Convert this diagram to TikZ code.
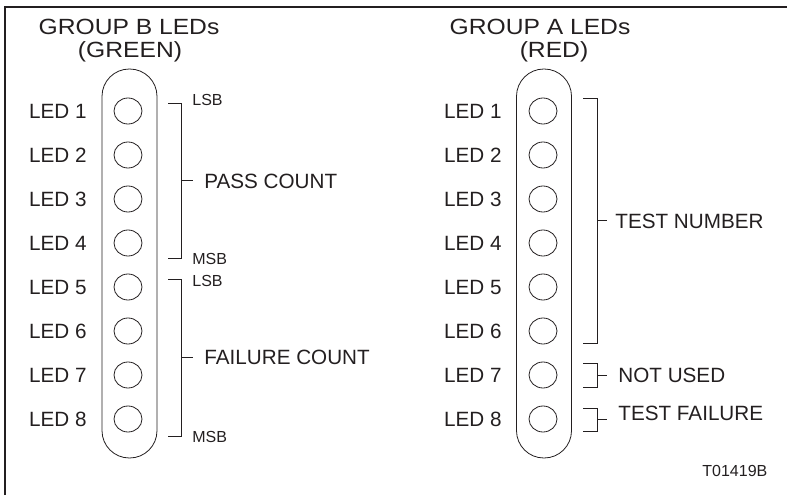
\documentclass[tikz,border=0pt]{standalone}
\usepackage{fontspec}
\setmainfont{Liberation Sans}
\newfontfamily\headfont[FakeStretch=1.12]{Liberation Sans}
\usetikzlibrary{positioning,shapes.geometric}

\definecolor{ink}{RGB}{35,31,32}

\tikzset{
  led/.style={draw, ellipse, minimum width=21pt, minimum height=19.5pt},
  ledname/.style={font=\fontsize{15.5}{18}\selectfont, left=20pt of #1},
  pill/.style={draw, minimum width=41.25pt, minimum height=291.75pt, rounded corners=20.5pt},
  heading/.style={font=\headfont\fontsize{16.5}{19}\selectfont},
  meaning/.style={font=\fontsize{15.5}{18}\selectfont, anchor=west},
  bit/.style={font=\fontsize{12}{14}\selectfont, anchor=west},
}

\begin{document}
\begin{tikzpicture}[x=0.75pt, y=-0.75pt, inner sep=0pt, color=ink, line width=0.6pt]
\useasboundingbox (0,0) rectangle (787,495);

% frame
\draw[line width=1.5pt] (5,495) -- (5,7) -- (787,7);

% group B
\node[heading] (titleb) at (129,27) {GROUP B LEDs};
\node[heading] (green) at (130,52) {(GREEN)};
\node[pill] (pillb) at (129.5,263.5) {};

\node[led] (b1) at (128,111) {};
\node[led] (b2) at (128,155) {};
\node[led] (b3) at (128,199) {};
\node[led] (b4) at (128,243) {};
\node[led] (b5) at (128,287) {};
\node[led] (b6) at (128,331) {};
\node[led] (b7) at (128,375) {};
\node[led] (b8) at (128,419) {};

\node[ledname=b1] (lb1) {LED 1};
\node[ledname=b2] (lb2) {LED 2};
\node[ledname=b3] (lb3) {LED 3};
\node[ledname=b4] (lb4) {LED 4};
\node[ledname=b5] (lb5) {LED 5};
\node[ledname=b6] (lb6) {LED 6};
\node[ledname=b7] (lb7) {LED 7};
\node[ledname=b8] (lb8) {LED 8};

% pass count
\draw (168,103) -- (181,103) -- (181,258) -- (168,258);
\draw (181,180.5) -- (193,180.5);
\node[bit] (lsbp) at (192,100) {LSB};
\node[bit] (msbp) at (192,259) {MSB};
\node[meaning] (pass) at (204,181) {PASS COUNT};

% failure count
\draw (168,279) -- (181,279) -- (181,436) -- (168,436);
\draw (181,357.5) -- (193,357.5);
\node[bit] (lsbf) at (192,281) {LSB};
\node[bit] (msbf) at (192,437) {MSB};
\node[meaning] (fail) at (204,357) {FAILURE COUNT};

% group A
\node[heading] (titlea) at (540,27) {GROUP A LEDs};
\node[heading] (red) at (554,52) {(RED)};
\node[pill] (pilla) at (544,263.5) {};

\node[led] (a1) at (543,111) {};
\node[led] (a2) at (543,155) {};
\node[led] (a3) at (543,199) {};
\node[led] (a4) at (543,243) {};
\node[led] (a5) at (543,287) {};
\node[led] (a6) at (543,331) {};
\node[led] (a7) at (543,375) {};
\node[led] (a8) at (543,419) {};

\node[ledname=a1] (la1) {LED 1};
\node[ledname=a2] (la2) {LED 2};
\node[ledname=a3] (la3) {LED 3};
\node[ledname=a4] (la4) {LED 4};
\node[ledname=a5] (la5) {LED 5};
\node[ledname=a6] (la6) {LED 6};
\node[ledname=a7] (la7) {LED 7};
\node[ledname=a8] (la8) {LED 8};

% test number, not used, test failure
\draw (583,98) -- (597,98) -- (597,343) -- (583,343);
\draw (597,220.5) -- (607,220.5);
\node[meaning] (testno) at (615,221) {TEST NUMBER};

\draw (583,363) -- (597,363) -- (597,387) -- (583,387);
\draw (597,375) -- (607,375);
\node[meaning] (unused) at (618,375) {NOT USED};

\draw (583,408) -- (597,408) -- (597,431) -- (583,431);
\draw (597,419.5) -- (607,419.5);
\node[meaning] (testfail) at (618,413) {TEST FAILURE};

\node[bit] (code) at (702,471) {T01419B};

\end{tikzpicture}
\end{document}
